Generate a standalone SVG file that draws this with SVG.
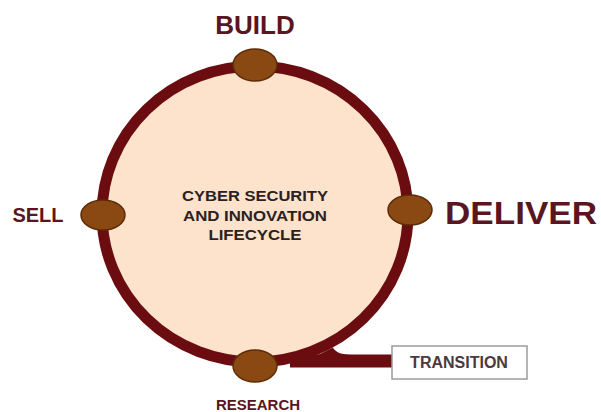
<svg xmlns="http://www.w3.org/2000/svg" width="601" height="412" viewBox="0 0 601 412">
<style>
.ring{fill:#fde2cc;stroke:#6b0d10;stroke-width:11}
.link{fill:none;stroke:#6b0d10;stroke-width:13}
.dot{fill:#8a4812;stroke:#5c2c08;stroke-width:1.5}
.lbl{font-family:"Liberation Sans",Arial,sans-serif;font-weight:bold;fill:#5a1520;text-anchor:middle}
.ctr{font-family:"Liberation Sans",Arial,sans-serif;font-weight:bold;fill:#2a2222;text-anchor:middle;font-size:15px}
.box{fill:#ffffff;stroke:#a09a9a;stroke-width:1.5}
</style>
<rect width="601" height="412" fill="#ffffff"/>
<g id="connectors">
<ellipse class="ring" cx="255" cy="214" rx="153" ry="148"/>
<line class="link" x1="290" y1="361" x2="393" y2="361"/>
<path d="M316,356 L333,347.5 Q336,354.5 352,355 L316,356 Z" fill="#6b0d10"/>
</g>
<g id="center">
<text class="ctr" x="255" y="201" textLength="146" lengthAdjust="spacingAndGlyphs">CYBER SECURITY</text>
<text class="ctr" x="255" y="221" textLength="144" lengthAdjust="spacingAndGlyphs">AND INNOVATION</text>
<text class="ctr" x="255" y="240" textLength="93" lengthAdjust="spacingAndGlyphs">LIFECYCLE</text>
</g>
<g id="build">
<ellipse class="dot" cx="255" cy="65" rx="22" ry="16"/>
<text class="lbl" x="255" y="34" font-size="26">BUILD</text>
</g>
<g id="sell">
<ellipse class="dot" cx="103" cy="215" rx="22" ry="15"/>
<text class="lbl" x="38" y="222" font-size="20">SELL</text>
</g>
<g id="deliver">
<ellipse class="dot" cx="410" cy="210" rx="22" ry="15"/>
<text class="lbl" x="521" y="224" font-size="31" textLength="152" lengthAdjust="spacingAndGlyphs">DELIVER</text>
</g>
<g id="research">
<ellipse class="dot" cx="255" cy="366" rx="22" ry="16"/>
<text class="lbl" x="258" y="410" font-size="15">RESEARCH</text>
</g>
<g id="transition">
<rect class="box" x="392" y="346" width="135" height="33"/>
<text class="lbl" x="459" y="368" font-size="16" style="fill:#4a3a3e">TRANSITION</text>
</g>
</svg>
